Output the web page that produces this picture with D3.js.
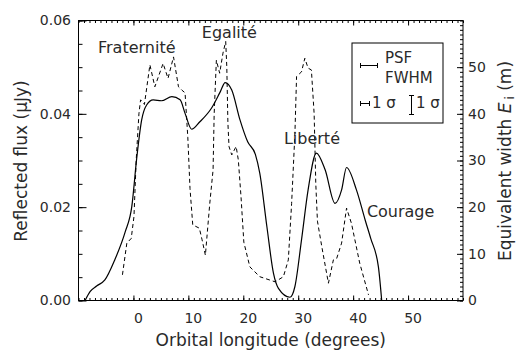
<!DOCTYPE html>
<html>
<head>
<meta charset="utf-8">
<script src="https://cdn.jsdelivr.net/npm/d3@7"></script>
<style>
  body { margin: 0; background: #fff; }
  text { font-family: "DejaVu Sans", sans-serif; fill: #2a2a2a; }
</style>
</head>
<body>
<svg id="chart" width="516" height="351"></svg>
<script>
// solid curve: reflected flux (left axis)
var fluxLon = [-8.8, -7.9, -6.7, -5.2, -3.4, -1.5, -0.3, 0.6, 1.5, 2.4, 3.6, 5.1, 7.0, 8.5, 9.4, 10.6, 12.1, 14.2, 15.8, 16.7, 17.9, 19.4, 20.8, 22.2, 23.0, 24.3, 25.5, 26.4, 28.5, 29.4, 30.6, 31.8, 33.3, 34.9, 36.7, 37.9, 38.8, 40.6, 42.2, 43.2, 44.6, 45.2];
var fluxVal = [0, 0.0019, 0.0031, 0.0044, 0.0087, 0.0147, 0.0201, 0.0305, 0.0387, 0.0419, 0.043, 0.0428, 0.0437, 0.043, 0.0401, 0.0367, 0.0383, 0.0412, 0.0447, 0.0467, 0.0451, 0.0387, 0.034, 0.0313, 0.0273, 0.0158, 0.0058, 0.0026, 0.0007, 0.003, 0.013, 0.0237, 0.0316, 0.028, 0.0208, 0.0237, 0.0285, 0.0237, 0.0172, 0.0133, 0.0072, 0];

// dashed curve: equivalent width (right axis)
var widthLon = [-2.0, -1.2, -0.4, 0.1, 0.5, 1.0, 1.3, 2.0, 3.0, 3.9, 5.4, 6.3, 7.3, 8.2, 8.8, 9.4, 9.9, 10.3, 10.8, 12.0, 12.5, 13.1, 13.9, 14.5, 14.7, 15.1, 15.7, 16.3, 16.8, 17.0, 17.2, 17.4, 17.9, 18.7, 19.1, 19.6, 20.1, 21.2, 23.0, 25.8, 27.3, 28.2, 28.8, 29.4, 29.7, 30.6, 31.2, 31.8, 32.4, 32.9, 33.2, 33.5, 34.3, 35.5, 36.4, 37.0, 37.9, 38.8, 39.7, 41.2, 42.8];
var widthVal = [5.5, 12.3, 13.3, 18, 30, 40, 43, 42, 50.5, 45.8, 50.8, 47.6, 52.2, 45.8, 45.1, 44.5, 35, 24, 16.2, 15.5, 13, 9.7, 20.8, 28, 40, 51.5, 48.7, 53, 55.5, 50, 38, 33, 31.2, 33, 30.1, 22, 12.5, 7.2, 5.1, 4.0, 5.1, 8.7, 20.8, 35.8, 48, 49, 51.9, 49.8, 49.4, 40, 25, 17, 11.5, 3.7, 8.7, 9.0, 12.3, 19.8, 16.5, 8.0, 1.2];

var xMajor = [0, 10, 20, 30, 40, 50];
var fluxTicks = [0, 0.02, 0.04, 0.06];
var widthTicks = [0, 10, 20, 30, 40, 50];

var labels = [
   {text: "Fraternité", lon: -6.45, flux: 0.0530},
   {text: "Egalité", lon: 12.45, flux: 0.0562},
   {text: "Liberté", lon: 27.4, flux: 0.0335},
   {text: "Courage", lon: 42.5, flux: 0.0179}
];

var margin = {top: 20.5, right: 53, bottom: 50.5, left: 78.5};
var W = 516, H = 351;
var svg = d3.select("#chart");

var x = d3.scaleLinear().domain([-10, 60]).range([margin.left, W - margin.right]);
var yL = d3.scaleLinear().domain([0, 0.06]).range([H - margin.bottom, margin.top]);
var yR = d3.scaleLinear().domain([0, 60]).range([H - margin.bottom, margin.top]);

function minorOf(lo, hi, step){
   return d3.range(lo, hi + step / 2, step).map(v => +v.toFixed(4));
}

function styleAxis(g){
   g.select(".domain").remove();
   g.selectAll("line").attr("stroke", "#000").attr("stroke-width", 1);
   g.selectAll("text").attr("font-size", 14).attr("fill", "#2a2a2a").attr("font-family", "DejaVu Sans");
}

//bottom
svg.append("g").attr("transform", "translate(0," + (H - margin.bottom) + ")")
   .call(d3.axisBottom(x).tickValues(minorOf(-10, 60, 1)).tickSize(-2.5).tickFormat(""))
   .call(styleAxis);
svg.append("g").attr("transform", "translate(0," + (H - margin.bottom) + ")")
   .call(d3.axisBottom(x).tickValues(xMajor).tickSize(-5).tickPadding(12.5).tickFormat(d3.format("d")))
   .call(styleAxis)
   .selectAll("text").attr("dx", 4.5);
//top
svg.append("g").attr("transform", "translate(0," + margin.top + ")")
   .call(d3.axisTop(x).tickValues(minorOf(-10, 60, 1)).tickSize(-2.5).tickFormat(""))
   .call(styleAxis);
svg.append("g").attr("transform", "translate(0," + margin.top + ")")
   .call(d3.axisTop(x).tickValues(xMajor).tickSize(-5).tickFormat(""))
   .call(styleAxis);
//left
svg.append("g").attr("transform", "translate(" + margin.left + ",0)")
   .call(d3.axisLeft(yL).tickValues(minorOf(0, 0.06, 0.005)).tickSize(-4).tickFormat(""))
   .call(styleAxis);
svg.append("g").attr("transform", "translate(" + margin.left + ",0)")
   .call(d3.axisLeft(yL).tickValues(fluxTicks).tickSize(-8).tickPadding(7.5).tickFormat(d3.format(".2f")))
   .call(styleAxis);
//right
svg.append("g").attr("transform", "translate(" + (W - margin.right) + ",0)")
   .call(d3.axisRight(yR).tickValues(minorOf(0, 60, 1)).tickSize(-3).tickFormat(""))
   .call(styleAxis);
svg.append("g").attr("transform", "translate(" + (W - margin.right) + ",0)")
   .call(d3.axisRight(yR).tickValues(widthTicks).tickSize(-6).tickPadding(5).tickFormat(d3.format("d")))
   .call(styleAxis);

//frame
svg.append("rect")
   .attr("x", margin.left).attr("y", margin.top)
   .attr("width", W - margin.left - margin.right)
   .attr("height", H - margin.top - margin.bottom)
   .attr("fill", "none").attr("stroke", "#000").attr("stroke-width", 1);

//curves
var fluxData = fluxLon.map((d, i) => [d, fluxVal[i]]);
var widthData = widthLon.map((d, i) => [d, widthVal[i]]);

svg.append("path")
   .datum(fluxData)
   .attr("fill", "none").attr("stroke", "#000").attr("stroke-width", 1.2)
   .attr("d", d3.line().x(d => x(d[0])).y(d => yL(d[1])).curve(d3.curveMonotoneX));

svg.append("path")
   .datum(widthData)
   .attr("fill", "none").attr("stroke", "#000").attr("stroke-width", 1)
   .attr("stroke-dasharray", "4,3")
   .attr("d", d3.line().x(d => x(d[0])).y(d => yR(d[1])));

//feature names
svg.append("g").selectAll("text")
   .data(labels)
   .enter().append("text")
      .attr("x", d => x(d.lon))
      .attr("y", d => yL(d.flux))
      .attr("font-size", 16)
      .text(d => d.text);

//legend
var lg = svg.append("g");
lg.append("rect").attr("x", 352).attr("y", 43).attr("width", 91).attr("height", 80)
   .attr("fill", "#fff").attr("stroke", "#000").attr("stroke-width", 1);

function hbar(x0, x1, yy){
   lg.append("line").attr("x1", x0).attr("x2", x1).attr("y1", yy).attr("y2", yy).attr("stroke", "#000");
   lg.append("line").attr("x1", x0).attr("x2", x0).attr("y1", yy - 2.5).attr("y2", yy + 2.5).attr("stroke", "#000");
   lg.append("line").attr("x1", x1).attr("x2", x1).attr("y1", yy - 2.5).attr("y2", yy + 2.5).attr("stroke", "#000");
}
hbar(360.5, 377.5, 65.5);
hbar(360.5, 369.5, 103.5);
lg.append("line").attr("x1", 411.5).attr("x2", 411.5).attr("y1", 95).attr("y2", 115).attr("stroke", "#000");
lg.append("line").attr("x1", 409).attr("x2", 414).attr("y1", 95.5).attr("y2", 95.5).attr("stroke", "#000");
lg.append("line").attr("x1", 409).attr("x2", 414).attr("y1", 114.5).attr("y2", 114.5).attr("stroke", "#000");

lg.append("text").attr("x", 385).attr("y", 63).attr("font-size", 15).text("PSF");
lg.append("text").attr("x", 385).attr("y", 83).attr("font-size", 15).text("FWHM");
lg.append("text").attr("x", 372).attr("y", 108).attr("font-size", 15).text("1 σ");
lg.append("text").attr("x", 416).attr("y", 108).attr("font-size", 15).text("1 σ");

//axis titles
svg.append("text")
   .attr("x", (W - margin.left - margin.right) / 2 + margin.left)
   .attr("y", 346)
   .attr("text-anchor", "middle")
   .attr("font-size", 17)
   .text("Orbital longitude (degrees)");

svg.append("text")
   .attr("transform", "rotate(-90)")
   .attr("x", -161).attr("y", 27)
   .attr("text-anchor", "middle")
   .attr("font-size", 17)
   .text("Reflected flux (µJy)");

var rt = svg.append("text")
   .attr("transform", "rotate(-90)")
   .attr("x", -161).attr("y", 511)
   .attr("text-anchor", "middle")
   .attr("font-size", 17);
rt.append("tspan").text("Equivalent width ");
rt.append("tspan").attr("font-style", "italic").text("E");
rt.append("tspan").attr("font-size", 12).attr("dy", 3).attr("dx", 3).text("i");
rt.append("tspan").attr("dy", -3).text("  (m)");
</script>
</body>
</html>
